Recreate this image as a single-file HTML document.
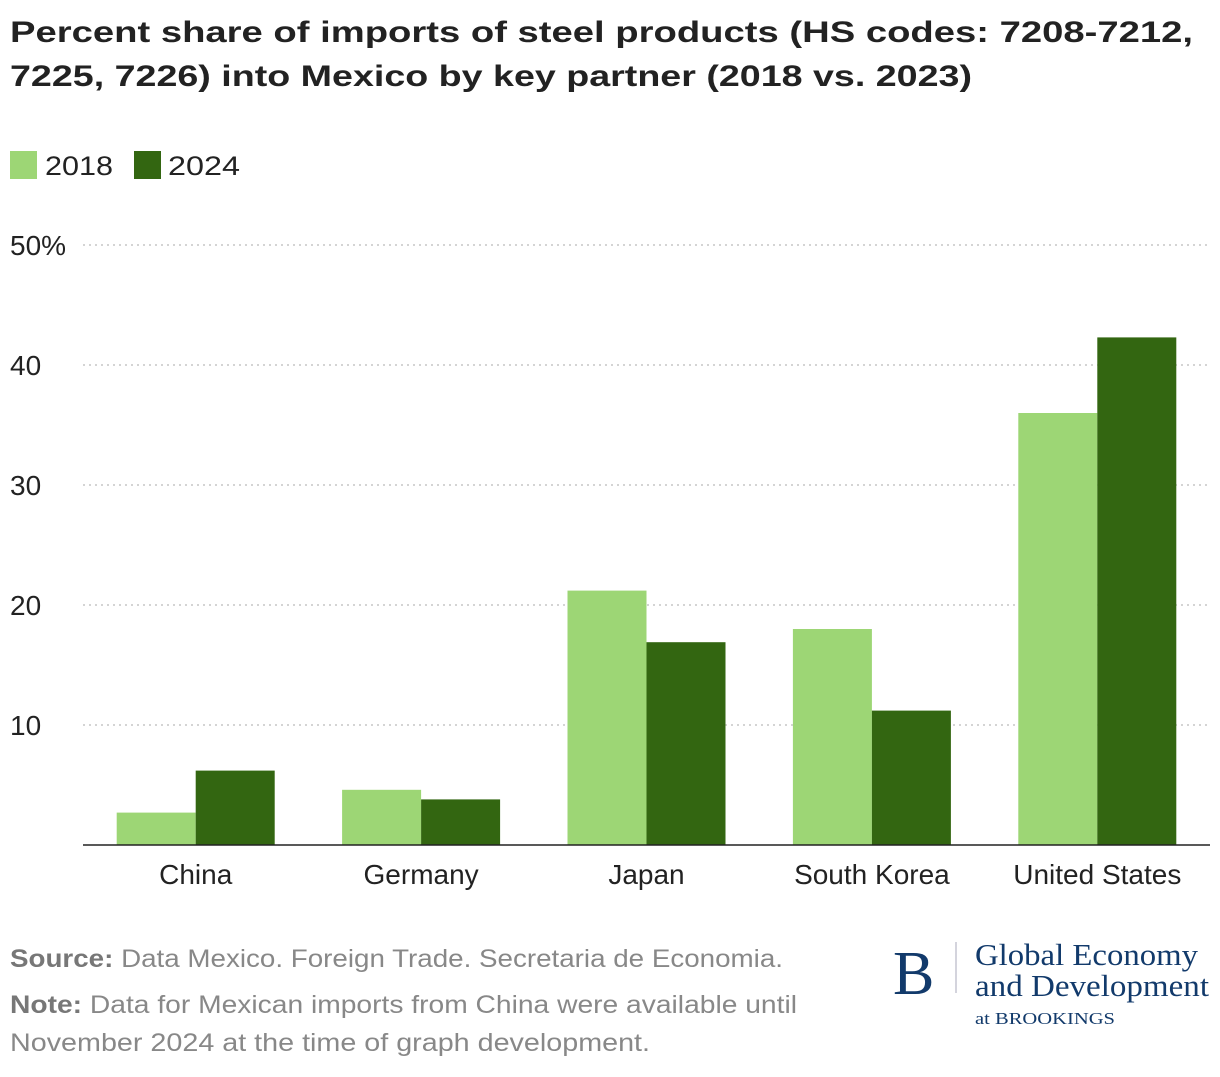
<!DOCTYPE html>
<html><head><meta charset="utf-8"><style>
body{margin:0;width:1220px;height:1072px;background:#fff;font-family:"Liberation Sans",sans-serif;overflow:hidden}
</style></head><body>
<svg width="1220" height="1072" xmlns="http://www.w3.org/2000/svg" id="chart">
<text x="10" y="42" font-size="30" font-weight="bold" fill="#222" textLength="1183" lengthAdjust="spacingAndGlyphs">Percent share of imports of steel products (HS codes: 7208-7212,</text>
<text x="10" y="86" font-size="30" font-weight="bold" fill="#222" textLength="962" lengthAdjust="spacingAndGlyphs">7225, 7226) into Mexico by key partner (2018 vs. 2023)</text>
<g>
<rect x="10" y="151" width="27" height="28" fill="#9dd675"/>
<text x="45" y="175" font-size="27" fill="#222" textLength="68" lengthAdjust="spacingAndGlyphs">2018</text>
<rect x="134" y="151" width="27" height="28" fill="#336611"/>
<text x="168" y="175" font-size="27" fill="#222" textLength="72" lengthAdjust="spacingAndGlyphs">2024</text>
</g>
<g id="grid"></g><g id="bars"></g><g id="xlabels"></g>
<line x1="83" x2="1210" y1="845" y2="845" stroke="#222" stroke-width="1.5"/>
<text x="10" y="967" font-size="25" fill="#888" textLength="773" lengthAdjust="spacingAndGlyphs"><tspan font-weight="bold" fill="#777">Source:</tspan> Data Mexico. Foreign Trade. Secretaria de Economia.</text>
<text x="10" y="1013" font-size="25" fill="#888" textLength="787" lengthAdjust="spacingAndGlyphs"><tspan font-weight="bold" fill="#777">Note:</tspan> Data for Mexican imports from China were available until</text>
<text x="10" y="1051" font-size="25" fill="#888" textLength="640" lengthAdjust="spacingAndGlyphs">November 2024 at the time of graph development.</text>
<g font-family="'Liberation Serif',serif" fill="#123a6b">
<text x="893" y="994" font-size="62">B</text>
<line x1="956" x2="956" y1="942" y2="993" stroke="#aab" stroke-width="1"/>
<text x="975" y="965" font-size="31" textLength="223" lengthAdjust="spacingAndGlyphs">Global Economy</text>
<text x="975" y="996" font-size="31" textLength="234" lengthAdjust="spacingAndGlyphs">and Development</text>
<text x="975" y="1024" font-size="17" textLength="140" lengthAdjust="spacingAndGlyphs">at BROOKINGS</text>
</g>
</svg>
<script>
const categories=["China","Germany","Japan","South Korea","United States"];
const values2018=[2.7,4.6,21.2,18.0,36.0];
const values2024=[6.2,3.8,16.9,11.2,42.3];
const ticks=[10,20,30,40,50];
const tickLabels=["10","20","30","40","50%"];
const NS="http://www.w3.org/2000/svg";
const x0=83,x1=1210,yBase=845,yTop=245,maxV=50;
const y=v=>yBase-(yBase-yTop)*v/maxV;
const band=(x1-x0)/categories.length;
const bw=79;
function mk(t,a,p){const e=document.createElementNS(NS,t);for(const k in a)e.setAttribute(k,a[k]);p.appendChild(e);return e;}
const grid=document.getElementById('grid'),bars=document.getElementById('bars'),xl=document.getElementById('xlabels');
ticks.forEach((t,i)=>{
 const l=mk('line',{x1:x0,x2:x1,y1:y(t),y2:y(t),stroke:'#bbb','stroke-dasharray':'2,4','stroke-width':1.3},grid);
 
 
 const tx=mk('text',{x:10,y:y(t)+10,'font-size':28,fill:'#222'},grid);
 tx.textContent=tickLabels[i];
 
 
});
categories.forEach((c,i)=>{
 const cx=x0+band*(i+0.5);
 const b1=mk('rect',{x:cx-bw,y:y(values2018[i]),width:bw,height:yBase-y(values2018[i]),fill:'#9dd675'},bars);
 
 
 const b2=mk('rect',{x:cx,y:y(values2024[i]),width:bw,height:yBase-y(values2024[i]),fill:'#336611'},bars);
 
 
 const t=mk('text',{x:cx,y:884,'font-size':28,fill:'#222','text-anchor':'middle'},xl);
 t.textContent=c;
 
 
});
</script>
</body></html>
